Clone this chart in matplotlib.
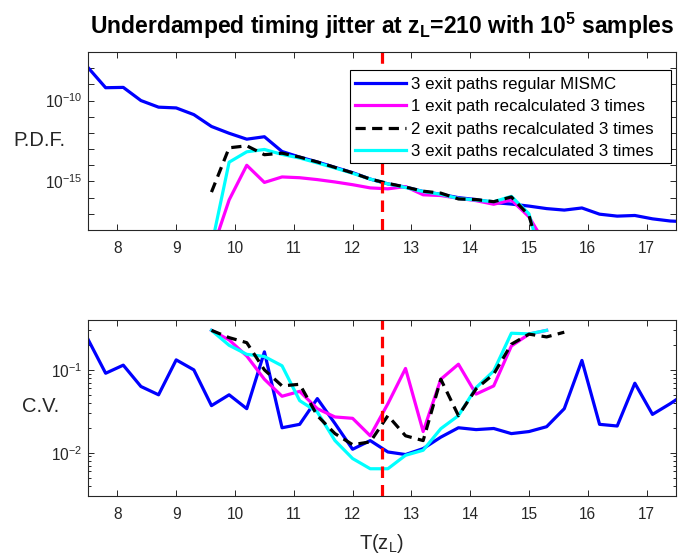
import math
import matplotlib
matplotlib.use("Agg")
import matplotlib.pyplot as plt
from matplotlib.patches import Rectangle
from matplotlib.ticker import FixedLocator, FuncFormatter, LogLocator, NullFormatter

plt.rcParams['font.family'] = ['Liberation Sans', 'DejaVu Sans']
plt.rcParams['mathtext.fontset'] = 'custom'
plt.rcParams['mathtext.rm'] = 'Liberation Sans'
plt.rcParams['mathtext.bf'] = 'Liberation Sans:bold'

# Bin centres of the exit time T(z_L)
t_full = [7.5, 7.8, 8.1, 8.4, 8.7, 9.0, 9.3, 9.6, 9.9, 10.2, 10.5, 10.8,
          11.1, 11.4, 11.7, 12.0, 12.3, 12.6, 12.9, 13.2, 13.5, 13.8, 14.1,
          14.4, 14.7, 15.0, 15.3, 15.6, 15.9, 16.2, 16.5, 16.8, 17.1, 17.4, 17.7]
t_recalc = [9.6, 9.9, 10.2, 10.5, 10.8, 11.1, 11.4, 11.7, 12.0, 12.3, 12.6,
            12.9, 13.2, 13.5, 13.8, 14.1, 14.4, 14.7, 15.0, 15.3]
t_two = [9.6, 9.9, 10.2, 10.5, 10.8, 11.1, 11.4, 11.7, 12.0, 12.3, 12.6,
         12.9, 13.2, 13.5, 13.8, 14.1, 14.4, 14.7, 15.0, 15.3, 15.6]

# Probability density estimates
pdf_regular = [1.1e-8, 6.2e-10, 6.5e-10, 1.0e-10, 3.9e-11, 3.5e-11, 1.35e-11,
               2.5e-12, 9.5e-13, 4.1e-13, 5.8e-13, 7.1e-14, 3.2e-14, 1.6e-14,
               7.4e-15, 3.5e-15, 1.4e-15, 7.1e-16, 4.5e-16, 2.4e-16, 1.6e-16,
               1.0e-16, 7.6e-17, 5.0e-17, 4.0e-17, 3.0e-17, 2.1e-17, 1.7e-17,
               2.3e-17, 9.5e-18, 7.2e-18, 7.9e-18, 4.9e-18, 3.6e-18, 3.2e-18]
pdf_one = [4e-20, 7.2e-17, 1.0e-14, 8.7e-16, 1.9e-15, 1.7e-15, 1.3e-15,
           9.3e-16, 6.3e-16, 4.0e-16, 3.5e-16, 4.8e-16, 1.5e-16, 1.35e-16,
           9.1e-17, 6.5e-17, 3.9e-17, 7.2e-17, 6.5e-18, 1e-19]
pdf_two = [2.2e-16, 1.2e-13, 1.6e-13, 4.5e-14, 5.6e-14, 3.2e-14, 1.6e-14,
           7.4e-15, 3.4e-15, 1.4e-15, 7.6e-16, 4.5e-16, 2.5e-16, 1.9e-16,
           8.3e-17, 7.6e-17, 5.6e-17, 1.1e-16, 7.9e-18, 1e-21, 1e-24]
pdf_three = [1e-19, 1.55e-14, 6.8e-14, 9.5e-14, 4.7e-14, 2.8e-14, 1.4e-14,
             6.8e-15, 3.2e-15, 1.4e-15, 7.1e-16, 4.2e-16, 2.4e-16, 1.6e-16,
             8.9e-17, 7.1e-17, 5.6e-17, 1.2e-16, 1e-17, 1e-21]

# Coefficients of variation
cv_regular = [0.234, 0.091, 0.114, 0.063, 0.050, 0.132, 0.100, 0.037, 0.050,
              0.034, 0.165, 0.020, 0.022, 0.045, 0.0225, 0.011, 0.014, 0.0102,
              0.0095, 0.0112, 0.0154, 0.020, 0.019, 0.0196, 0.017, 0.018,
              0.0206, 0.034, 0.13, 0.022, 0.021, 0.069, 0.029, 0.039, 0.054]
cv_one = [0.30, 0.23, 0.147, 0.077, 0.048, 0.055, 0.034, 0.027, 0.026, 0.016,
          0.039, 0.104, 0.018, 0.077, 0.117, 0.051, 0.064, 0.194, 0.27, 0.30]
cv_two = [0.30, 0.245, 0.213, 0.10, 0.064, 0.067, 0.028, 0.017, 0.0125,
          0.0135, 0.028, 0.016, 0.014, 0.077, 0.028, 0.059, 0.089, 0.204,
          0.27, 0.25, 0.285]
cv_three = [0.30, 0.198, 0.154, 0.145, 0.112, 0.0425, 0.031, 0.014, 0.0085,
            0.0064, 0.0064, 0.0093, 0.0107, 0.0195, 0.028, 0.061, 0.097,
            0.277, 0.272, 0.30]

labels = ['3 exit paths regular MISMC', '1 exit path recalculated 3 times',
          '2 exit paths recalculated 3 times', '3 exit paths recalculated 3 times']
t_ref = 12.5

W, H = 680, 559
fig = plt.figure(figsize=(W / 100, H / 100), dpi=100)
ax1 = fig.add_axes([88 / W, 1 - 230 / H, 588 / W, 178 / H])
ax2 = fig.add_axes([88 / W, 1 - 496 / H, 588 / W, 176 / H])

lw = 2.3
grey = '#262626'


def draw(ax, ys):
    h1, = ax.plot(t_full, ys[0], color='#0000ff', lw=lw, zorder=2)
    h2, = ax.plot(t_recalc, ys[1], color='#ff00ff', lw=lw, zorder=2.1)
    h4, = ax.plot(t_recalc, ys[3], color='#00ffff', lw=lw, zorder=2.2)
    h3, = ax.plot(t_two, ys[2], color='k', lw=lw, ls='--', dashes=(3.2, 2.0),
                  zorder=2.3)
    ax.axvline(t_ref, color='#ff0000', lw=lw, ls='--', dashes=(3.6, 2.2),
               zorder=2.4)
    return [h1, h2, h3, h4]


def pow10(v, pos):
    return r'$\mathregular{10^{%d}}$' % round(math.log10(v))


handles = draw(ax1, [pdf_regular, pdf_one, pdf_two, pdf_three])
draw(ax2, [cv_regular, cv_one, cv_two, cv_three])

for ax in (ax1, ax2):
    ax.set_yscale('log')
    ax.set_xlim(7.5, 17.5)
    ax.set_xticks(range(8, 18))
    ax.tick_params(which='both', direction='in', top=True, right=True,
                   colors=grey, labelsize=11.2, width=0.7)
    ax.tick_params(which='major', length=4.5)
    ax.tick_params(which='minor', length=2.5)
    ax.tick_params(axis='x', pad=8)
    ax.tick_params(axis='y', pad=4)
    for s in ax.spines.values():
        s.set_color(grey)
        s.set_linewidth(0.8)

ax1.set_ylim(1e-18, 1e-7)
ax1.yaxis.set_major_locator(FixedLocator([10.0 ** k for k in range(-18, -6)]))
ax1.yaxis.set_minor_locator(FixedLocator([]))
ax1.yaxis.set_major_formatter(FuncFormatter(
    lambda v, p: pow10(v, p) if round(math.log10(v)) in (-10, -15) else ''))

ax2.set_ylim(3e-3, 0.4)
ax2.yaxis.set_major_locator(FixedLocator([1e-2, 1e-1]))
ax2.yaxis.set_minor_locator(LogLocator(base=10, subs=range(2, 10)))
ax2.yaxis.set_minor_formatter(NullFormatter())
ax2.yaxis.set_major_formatter(FuncFormatter(pow10))

ax1.set_ylabel('P.D.F.', rotation=0, fontsize=14.5, color=grey,
               ha='center', va='center')
ax1.yaxis.set_label_coords(-0.082, 0.5)
ax2.set_ylabel('C.V.', rotation=0, fontsize=14.5, color=grey,
               ha='center', va='center')
ax2.yaxis.set_label_coords(-0.080, 0.51)
ax2.set_xlabel(r'T(z$_\mathregular{L}$)', fontsize=14.5, color=grey, labelpad=7)

ax1.set_title(r'Underdamped timing jitter at z$_\mathbf{L}$=210 with 10$^\mathbf{5}$ samples',
              fontsize=16.5, fontweight='bold', pad=13)

# Legend box with generous right margin, entries placed inside it
ax1.add_patch(Rectangle((350 / W, 1 - 163 / H), 321 / W, 93 / H,
                        transform=fig.transFigure, facecolor='white',
                        edgecolor='k', lw=0.8, zorder=4, clip_on=False))
leg = ax1.legend(handles, labels, loc='upper left',
                 bbox_to_anchor=(355 / W, 1 - 77 / H),
                 bbox_transform=fig.transFigure, borderaxespad=0,
                 frameon=False, fontsize=12.2,
                 handlelength=3.0, handletextpad=0.3, labelspacing=0.43,
                 borderpad=0)
leg.set_zorder(5)

fig.savefig('out.png', dpi=100)
